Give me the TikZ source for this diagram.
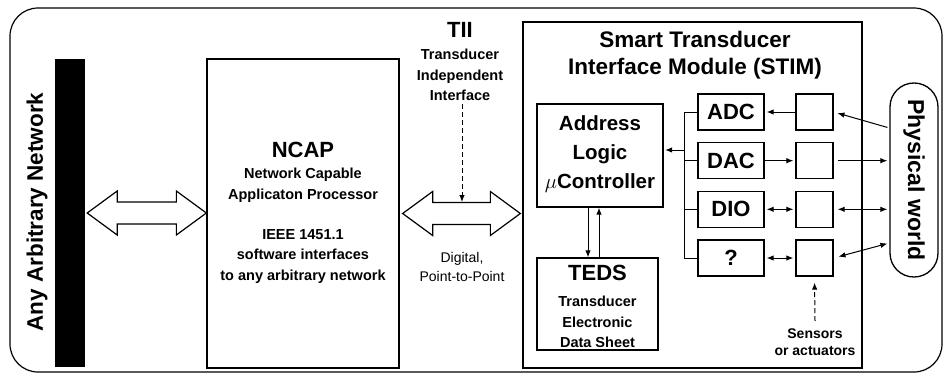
\documentclass[tikz,border=0pt]{standalone}
\usepackage{fontspec}
\setmainfont{Liberation Sans}
\usetikzlibrary{arrows.meta,calc}

% hollow double-headed block arrow between two points (height taken from the first one)
\newcommand{\dblockarrow}[2]{%
  \draw[blk] let \p1=(#1), \p2=(#2) in
    (\x1,\y1) -- (\x1+30pt,\y1+22pt) -- (\x1+30pt,\y1+11pt) -- (\x2-30pt,\y1+11pt)
    -- (\x2-30pt,\y1+22pt) -- (\x2,\y1) -- (\x2-30pt,\y1-22pt) -- (\x2-30pt,\y1-11pt)
    -- (\x1+30pt,\y1-11pt) -- (\x1+30pt,\y1-22pt) -- cycle;}

\begin{document}
\begin{tikzpicture}[x=1pt,y=-1pt,
  box/.style={draw, line width=1.3pt, inner sep=0pt, fill=white},
  big/.style={font=\fontsize{22}{26}\selectfont\bfseries, inner sep=0pt},
  mid/.style={font=\fontsize{20.5}{29}\selectfont\bfseries, inner sep=0pt, align=center},
  sub/.style={font=\fontsize{14.5}{20.5}\selectfont\bfseries, inner sep=0pt, align=center},
  tip/.style={line width=1pt, -{Latex[length=7pt,width=5.5pt]}},
  tips/.style={line width=1pt, {Latex[length=7pt,width=5.5pt]}-{Latex[length=7pt,width=5.5pt]}},
  wire/.style={line width=1pt},
  blk/.style={line width=1.2pt, fill=white, line join=miter},
  dashline/.style={dash pattern=on 5pt off 3pt},
  rowbox/.style={box, minimum width=66pt, minimum height=36pt},
  sensbox/.style={box, minimum width=37pt, minimum height=36pt},
  ]
\useasboundingbox (0,0) rectangle (945,376);

% outer frame
\draw[line width=1.2pt, rounded corners=28pt] (10,8) rectangle (942,372);

% network bus bar
\node[fill=black, minimum width=30pt, minimum height=308pt, inner sep=0pt] (bar) at (70,213) {};
\node[big, font=\fontsize{22.5}{26}\selectfont\bfseries, rotate=90] (netlabel) at (37,212) {Any Arbitrary Network};

% NCAP
\node[box, minimum width=192pt, minimum height=309pt] (ncap) at (303,213.5) {};
\node[big] (ncaptitle) at (303,150) {NCAP};
\node[sub] (ncapname) at (303,185) {Network Capable\\Applicaton Processor};
\node[sub] (ncapsw) at (303,256.5) {IEEE 1451.1\\software interfaces\\to any arbitrary network};

% STIM
\node[box, minimum width=339pt, minimum height=346pt] (stim) at (692.5,195) {};
\node[big, align=center, font=\fontsize{22.5}{27}\selectfont\bfseries] (stimtitle) at (695,55.5) {Smart Transducer\\Interface Module (STIM)};

% TII
\node[big] (tiititle) at (460,30) {TII};
\node[sub] (tiiname) at (460,75) {Transducer\\Independent\\Interface};
\node[font=\fontsize{14}{19}\selectfont, inner sep=0pt, align=center] (digital) at (462,267) {Digital,\\Point-to-Point};

% block arrows
\dblockarrow{$(bar.east)+(2,0)$}{ncap.west}
\coordinate (tiiin) at (462,202);
\dblockarrow{$(ncap.east)+(3,0)$}{$(stim.west)+(-2,0)$}
\draw[tip, dashline] (tiiname.south -| tiiin) ++(0,3) -- (tiiin);

% address logic and TEDS
\node[box, minimum width=126pt, minimum height=103pt] (addr) at (600,155.5) {};
\node[mid] (addrtext) at (600,154) {Address\\Logic\\$\mu$Controller};
\node[box, minimum width=121pt, minimum height=92pt] (teds) at (597.5,304) {};
\node[big] (tedstitle) at (597.5,273) {TEDS};
\node[sub] (tedsname) at (597.5,322) {Transducer\\Electronic\\Data Sheet};

\coordinate (dnx) at (588,0);
\coordinate (upx) at (599,0);
\draw[tip] (dnx |- addr.south) -- (dnx |- teds.north);
\draw[tip] (upx |- teds.north) -- (upx |- addr.south);

% converter rows
\node[rowbox] (adc) at (731,112) {};
\node[big] (adctext) at (adc) {ADC};
\node[rowbox] (dac) at (731,160.7) {};
\node[big] (dactext) at (dac) {DAC};
\node[rowbox] (dio) at (731,209.3) {};
\node[big] (diotext) at (dio) {DIO};
\node[rowbox] (unk) at (731,258) {};
\node[big] (unktext) at (unk) {?};

\node[sensbox] (s1) at (814.5,112) {};
\node[sensbox] (s2) at (814.5,160.7) {};
\node[sensbox] (s3) at (814.5,209.3) {};
\node[sensbox] (s4) at (814.5,258) {};

% internal bus
\coordinate (busx) at (684,0);
\coordinate (busin) at (684,150);
\draw[wire] (busx |- adc.west) -- (busx |- unk.west);
\draw[wire] (busx |- adc.west) -- (adc.west);
\draw[wire] (busx |- dac.west) -- (dac.west);
\draw[wire] (busx |- dio.west) -- (dio.west);
\draw[wire] (busx |- unk.west) -- (unk.west);
\draw[tip, shorten >=1.5pt] (busin) -- (busin -| addr.east);

\draw[tip, shorten >=2pt] (s1.west) -- (adc.east);
\draw[tip, shorten >=2pt] (dac.east) -- (s2.west);
\draw[tips, shorten >=2pt, shorten <=2pt] (dio.east) -- (s3.west);
\draw[tips, shorten >=2pt, shorten <=2pt] (unk.east) -- (s4.west);

% physical world
\node[draw, line width=1.3pt, rounded corners=23.9pt, minimum width=48pt, minimum height=194pt, inner sep=0pt] (phys) at (914,180) {};
\node[big, font=\fontsize{23}{26}\selectfont\bfseries, rotate=-90] (physlabel) at (phys.center) {Physical world};

\draw[tip, shorten >=4pt, shorten <=2pt] ($(phys.west)+(0,-52)$) -- (s1.east);
\draw[tip, shorten >=2pt, shorten <=4pt] (s2.east) -- (phys.west |- s2.east);
\draw[tips, shorten >=2pt, shorten <=4pt] (s3.east) -- (phys.west |- s3.east);
\draw[tips, shorten >=2pt, shorten <=5pt] (s4.east) -- ($(phys.west)+(0,63)$);

% sensors label
\node[sub, font=\fontsize{14}{17.5}\selectfont\bfseries] (senslabel) at (815,342) {Sensors\\or actuators};
\draw[tip, dashline, shorten >=6pt] ($(senslabel.north)+(0,-7)$) -- (s4.south);

\end{tikzpicture}
\end{document}
